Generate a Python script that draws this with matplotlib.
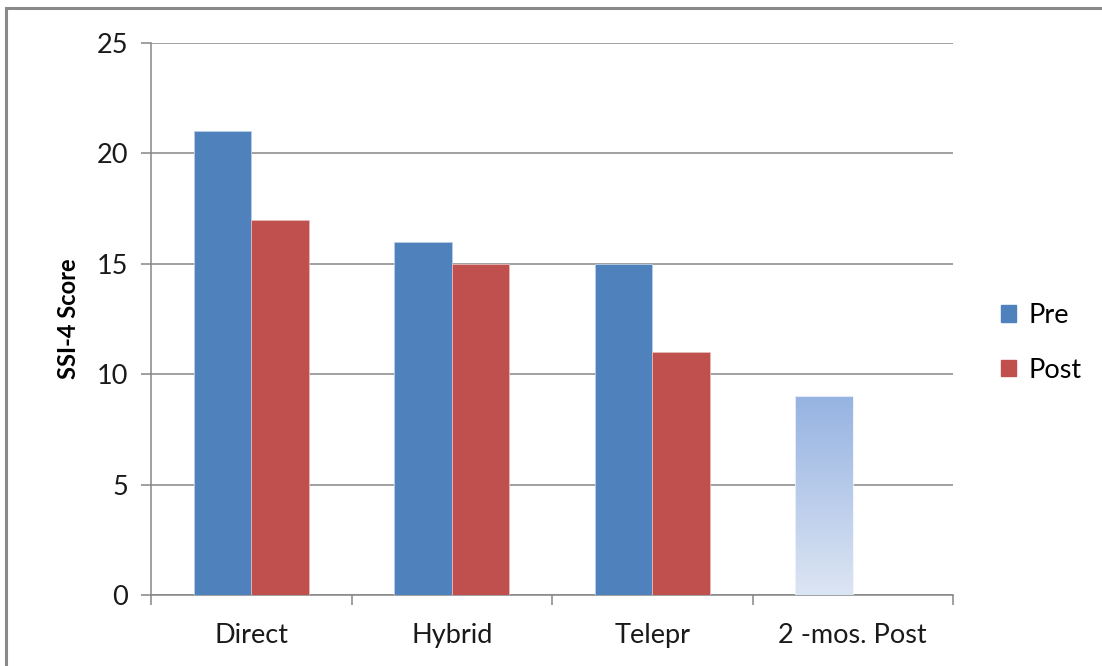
import numpy as np
import matplotlib
matplotlib.use("Agg")
import matplotlib.pyplot as plt
from matplotlib.patches import Rectangle
from matplotlib.colors import LinearSegmentedColormap

plt.rcParams['font.family'] = ['Lato', 'DejaVu Sans']

# data
categories = ["Direct", "Hybrid", "Telepr", "2 -mos. Post"]
pre = [21, 16, 15, 9]
post = [17, 15, 11, np.nan]

blue = "#4F81BD"
red = "#C0504D"
grey = "#868686"
fs = 19.5

fig = plt.figure(figsize=(11.02, 6.66), dpi=100)
ax = fig.add_axes([151 / 1102, 1 - 595 / 666, 802 / 1102, 552 / 666])

x = np.arange(len(categories))
w = 1 / 3.5
bars_pre = ax.bar(x - w / 2, pre, w, color=blue, edgecolor="#B9CDE5", linewidth=0.6, zorder=3, label="Pre")
bars_post = ax.bar(x + w / 2, post, w, color=red, edgecolor="#E6B9B8", linewidth=0.6, zorder=3, label="Post")

# last Pre bar (2-mos. Post) gets a gradient fill
last = bars_pre[-1]
last.set_facecolor("none")
last.set_edgecolor("#F0F4FA")
cmap = LinearSegmentedColormap.from_list("g", ["#DCE5F3", "#96B3E2"])
bx, bw, bh = last.get_x(), last.get_width(), last.get_height()
grad = np.linspace(0, 1, 256).reshape(-1, 1)
im = ax.imshow(grad, extent=(bx, bx + bw, 0, bh), origin="lower", cmap=cmap,
               aspect="auto", zorder=2.9)
im.set_clip_path(last)

ax.set_xlim(-0.5, len(categories) - 0.5)
ax.set_ylim(0, 25)
ax.set_yticks(np.arange(0, 26, 5))
ax.yaxis.grid(True, color=grey, linewidth=1.1, zorder=0)
ax.set_axisbelow(True)

# category boundaries as major ticks, labels on minor ticks
ax.set_xticks(np.arange(-0.5, len(categories), 1))
ax.set_xticklabels([])
ax.set_xticks(x, minor=True)
ax.set_xticklabels(categories, minor=True)
ax.tick_params(axis="x", which="major", length=7.5, width=1.1, color=grey, direction="out")
ax.tick_params(axis="x", which="minor", length=0, pad=20, labelsize=fs, labelcolor="#1a1a1a")
ax.tick_params(axis="y", length=7.5, width=1.1, color=grey, pad=9, labelsize=fs, labelcolor="#1a1a1a")

for s in ["top", "right"]:
    ax.spines[s].set_visible(False)
for s in ["left", "bottom"]:
    ax.spines[s].set_color(grey)
    ax.spines[s].set_linewidth(1.1)

ax.set_ylabel("SSI-4 Score", fontsize=17, fontweight="bold", labelpad=12)

handles = [Rectangle((0, 0), 1, 1, color=blue), Rectangle((0, 0), 1, 1, color=red)]
fig.legend(handles, ["Pre", "Post"], loc="center left", bbox_to_anchor=(977 / 1102, 1 - 343 / 666),
           frameon=False, fontsize=fs, handlelength=0.55, handleheight=0.55,
           handletextpad=0.45, labelspacing=1.1)

# outer border
fig.patches.append(Rectangle((6 / 1102, -0.1), 1.2, 1.1 - 8 / 666, transform=fig.transFigure,
                             fill=False, edgecolor="#8A8A8A", linewidth=2.2, clip_on=False))

fig.savefig("out.png", dpi=100)
